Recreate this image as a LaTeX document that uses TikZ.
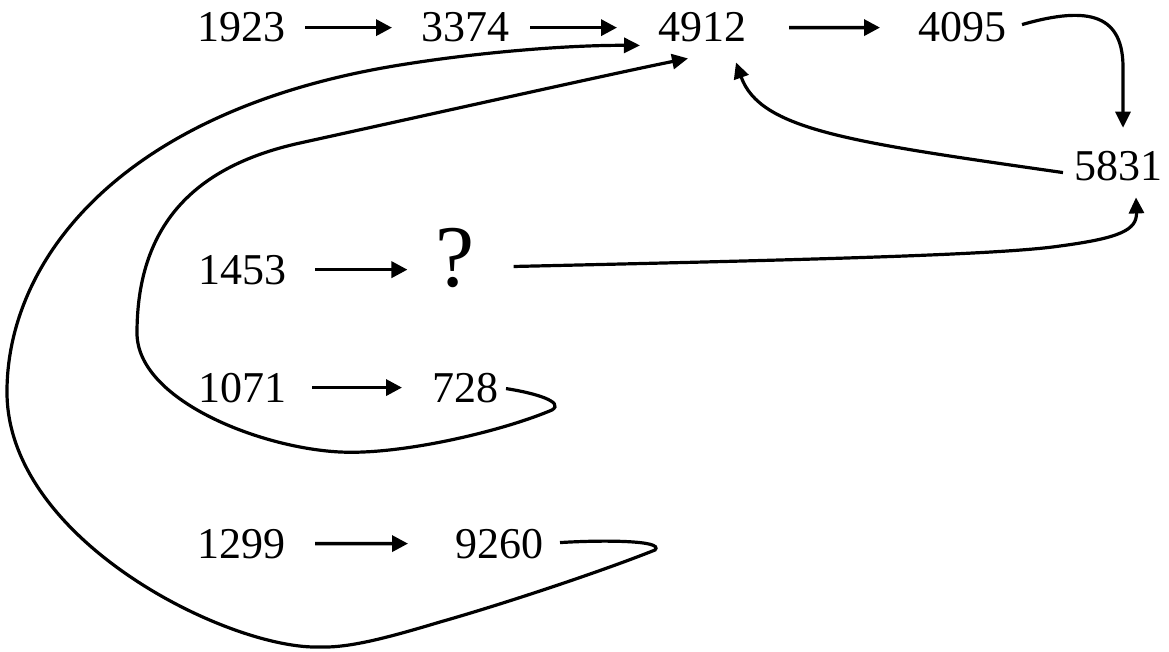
\documentclass[tikz,border=0pt]{standalone}
\usepackage{fontspec}
\setmainfont{Liberation Serif}
\usetikzlibrary{arrows.meta,calc}
\begin{document}
\begin{tikzpicture}[x=1pt,y=-1pt,
  num/.style={inner sep=0pt, outer sep=0pt, anchor=base, font=\fontsize{44}{50}\selectfont},
  qm/.style={inner sep=0pt, outer sep=0pt, anchor=base, font=\fontsize{88}{92}\selectfont},
  link/.style={line width=3.5pt, -{Triangle[length=16pt,width=16pt]}},
  curve/.style={line width=3.2pt, -{Triangle[length=16pt,width=15pt]}}]
\useasboundingbox (0,0) rectangle (1169,652);
% nodes
\node[num] (n1923) at (241,42) {1923};
\node[num] (n3374) at (465,42) {3374};
\node[num] (n4912) at (702,42) {4912};
\node[num] (n4095) at (962,42) {4095};
\node[num] (n5831) at (1118,181) {5831};
\node[num] (n1453) at (242,284) {1453};
\node[qm]  (nq)    at (455,286) {?};
\node[num] (n1071) at (242,402) {1071};
\node[num] (n728)  at (465,402) {728};
\node[num] (n1299) at (241,558) {1299};
\node[num] (n9260) at (499,558) {9260};
% straight arrows
\draw[link, shorten <=20pt, shorten >=29pt] (n1923.east) -- (n3374.west);
\draw[link, shorten <=21pt, shorten >=41pt] (n3374.east) -- (n4912.west);
\draw[link, shorten <=43pt, shorten >=38pt] (n4912.east) -- (n4095.west);
\draw[link, shorten <=29pt, shorten >=28pt] (n1453.east) -- (nq.west |- n1453.east);
\draw[link, shorten <=26pt, shorten >=30pt] (n1071.east) -- (n728.west);
\draw[link, shorten <=30pt, shorten >=47pt] (n1299.east) -- (n9260.west);
% 4095 -> 5831
\draw[curve] ($(n4095.east)+(16,-3)$) .. controls (1090,5) and (1124,15) .. (1123,70)
  -- ($(n5831.north)+(5,-24)$);
% 5831 -> 4912
\draw[curve] ($(n5831.west)+(-11,6)$) .. controls (850,142) and (760,130) .. ($(n4912.south)+(34,20)$);
% ? -> 5831
\draw[curve] ($(nq.east)+(39,9)$) .. controls (800,260) and (1000,255) .. (1060,246)
  .. controls (1120,238) and (1137,230) .. ($(n5831.south)+(18,16)$);
% 728 loop -> 4912
\draw[curve] ($(n728.east)+(8,1)$) .. controls (535,393) and (565,402) .. (552,410)
  .. controls (500,432) and (400,455) .. (340,452)
  .. controls (260,448) and (137,400) .. (137,333)
  .. controls (137,220) and (200,165) .. (300,143)
  .. controls (450,110) and (620,72) .. ($(n4912.south west)+(30,16)$);
% 9260 loop -> 4912
\draw[curve] ($(n9260.east)+(17,-1)$) .. controls (600,540) and (665,540) .. (655,550)
  .. controls (600,572) and (500,605) .. (440,622)
  .. controls (390,637) and (350,648) .. (320,647)
  .. controls (230,650) and (5,540) .. (7,390)
  .. controls (8,260) and (120,110) .. (400,65)
  .. controls (480,52) and (570,45) .. ($(n4912.south west)+(-18,3)$);
\end{tikzpicture}
\end{document}
